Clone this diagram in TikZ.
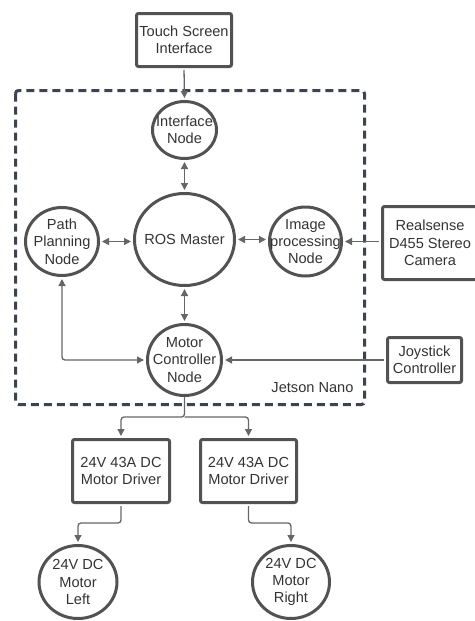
\documentclass[tikz,border=0pt]{standalone}
\usepackage{fontspec}
\setmainfont{Liberation Sans}
\usepackage{tikz}
\usetikzlibrary{arrows.meta,shapes.geometric,calc}
\definecolor{boardgray}{HTML}{3D4450}

\begin{document}
\begin{tikzpicture}[x=1pt,y=-1pt,
  every node/.style={align=center,text=black!80,font=\fontsize{14.6}{17.3}\selectfont},
  hwbox/.style={draw=black!68,line width=3pt,rounded corners=2pt,inner sep=0pt},
  rosnode/.style={ellipse,draw=black!68,line width=3pt,inner sep=-30pt},
  link/.style={draw=black!60,line width=1.3pt,rounded corners=3pt,shorten >=2pt,shorten <=2pt,
    -{Triangle[length=7pt,width=7pt]}},
  both/.style={link,{Triangle[length=7pt,width=7pt]}-{Triangle[length=7pt,width=7pt]}}]
\useasboundingbox (0,0) rectangle (474,621);
% Jetson Nano board
\draw[draw=boardgray,line width=3pt,dash pattern=on 8pt off 5pt,rounded corners=3pt]
  (15.5,90.5) rectangle (364.5,404.5);
\node[anchor=east] (jetson) at (357,388) {Jetson Nano};
% nodes
\node[hwbox,minimum width=95pt,minimum height=53pt] (touch) at (184,40) {Touch Screen\\Interface};
\node[rosnode,minimum width=64pt,minimum height=57pt] (iface) at (184.5,130) {Interface\\Node};
\node[rosnode,minimum width=100pt,minimum height=92pt] (ros) at (184.5,239.5) {ROS Master};
\node[rosnode,minimum width=73pt,minimum height=68pt] (path) at (62,241.5) {Path\\Planning\\Node};
\node[rosnode,minimum width=72pt,minimum height=69pt] (img) at (305.5,241.5) {Image\\processing\\Node};
\node[hwbox,minimum width=95pt,minimum height=73pt] (cam) at (430,243) {Realsense\\D455 Stereo\\Camera};
\node[rosnode,minimum width=74pt,minimum height=71pt] (mctrl) at (184.5,360) {Motor\\Controller\\Node};
\node[hwbox,minimum width=74pt,minimum height=45pt] (joy) at (424.5,360) {Joystick\\Controller};
\node[hwbox,minimum width=97pt,minimum height=63pt] (drvL) at (121,471) {24V 43A DC\\Motor Driver};
\node[hwbox,minimum width=96pt,minimum height=63pt] (drvR) at (248.5,471) {24V 43A DC\\Motor Driver};
\node[rosnode,minimum width=78pt,minimum height=73pt] (motL) at (78,582) {24V DC\\Motor\\Left};
\node[rosnode,minimum width=77pt,minimum height=73pt] (motR) at (291,582) {24V DC\\Motor\\Right};
\coordinate (split) at (184.5,417);
% connections
\draw[link] (touch.south) -- (iface.north);
\draw[both] (iface.south) -- (ros.north);
\draw[both] (path.east) -- (path.east -| ros.west);
\draw[both] (ros.east) -- (ros.east -| img.west);
\draw[link] (cam.west |- img.east) -- (img.east);
\draw[both] (ros.south) -- (mctrl.north);
\draw[both] (path.south) |- (mctrl.west);
\draw[link] (joy.west) -- (mctrl.east);
\draw[link,shorten <=0pt] (mctrl.south) -- (split) -| (drvL.north);
\draw[link,shorten <=0pt] (split) -| (drvR.north);
\draw[link] (drvL.south) -- ++(0,19) -| (motL.north);
\draw[link] (drvR.south) -- ++(0,19) -| (motR.north);
\end{tikzpicture}
\end{document}
